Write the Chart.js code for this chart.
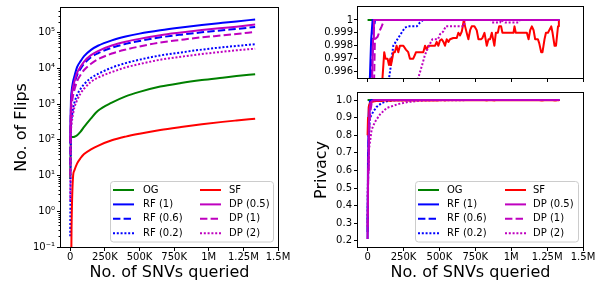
<!DOCTYPE html>
<html><head><meta charset="utf-8">
<script src="https://cdn.jsdelivr.net/npm/chart.js@4"></script>
<style>
html,body{margin:0;padding:0;background:#fff;}
#wrap{position:relative;width:596px;height:286px;overflow:hidden;background:#fff;}
canvas{position:absolute;}
</style></head><body>
<div id="wrap">
<canvas id="c1" width="300" height="286" style="left:0;top:0"></canvas>
<canvas id="c2" width="296" height="85" style="left:300px;top:0"></canvas>
<canvas id="c3" width="296" height="201" style="left:300px;top:85px"></canvas>
</div>
<script>
// ---------- data ----------
const seriesNames = ['OG','RF (1)','RF (0.6)','RF (0.2)','SF','DP (0.5)','DP (1)','DP (2)'];

const xTickValues = [0, 250000, 500000, 750000, 1000000, 1250000, 1500000];
const xTickLabels = ['0','250K','500K','750K','1M','1.25M','1.5M'];
const flipTickValues = [0.1, 1, 10, 100, 1000, 10000, 100000];
const flipTickLabels = ['10\u207B\u00B9','10\u2070','10\u00B9','10\u00B2','10\u00B3','10\u2074','10\u2075'];
const privTopTickValues = [0.996, 0.997, 0.998, 0.999, 1];
const privTopTickLabels = ['0.996','0.997','0.998','0.999','1'];
const privTickValues = [0.2, 0.3, 0.4, 0.5, 0.6, 0.7, 0.8, 0.9, 1.0];
const privTickLabels = ['0.2','0.3','0.4','0.5','0.6','0.7','0.8','0.9','1.0'];

// No. of flips vs SNVs queried
const flipX    = [0, 5000, 10000, 20000, 30000, 50000, 75000, 100000, 150000, 200000, 300000, 400000, 500000, 650000, 800000, 950000, 1100000, 1200000, 1335000];
const flipOG   = [8, 110, 118, 120, 122, 135, 170, 230, 400, 650, 1100, 1650, 2200, 3100, 3900, 4700, 5500, 6100, 6900];
const flipRF1  = [80, 1200, 2300, 4200, 6000, 11000, 16000, 22000, 33000, 43000, 61000, 78000, 94000, 117000, 140000, 164000, 188000, 205000, 235000];
const flipRF06 = [20, 700, 1400, 2600, 3700, 6600, 9800, 13500, 20500, 26500, 38000, 48500, 58500, 74000, 88000, 102000, 117000, 127000, 144000];
const flipRF02 = [0.2, 200, 400, 750, 1100, 1800, 2700, 3600, 5400, 7000, 10500, 14000, 17500, 23000, 28000, 33500, 39000, 42500, 47600];
const flipSF   = [0.01, 0.01, 0.5, 9, 14, 22, 31, 40, 54, 68, 97, 123, 148, 188, 228, 272, 318, 348, 390];
const flipDP05 = [90, 800, 1600, 3000, 4300, 7600, 11200, 15500, 23500, 30500, 43500, 55500, 67000, 85000, 101000, 118000, 135000, 147000, 168000];
const flipDP1  = [10, 450, 900, 1700, 2500, 4400, 6600, 9000, 13500, 18000, 26000, 33500, 41000, 53000, 63000, 74000, 84000, 92000, 104000];
const flipDP2  = [2, 140, 280, 520, 800, 1300, 2000, 2700, 4200, 5500, 7900, 10600, 13200, 17500, 21300, 25200, 29200, 32000, 35600];

// Privacy vs SNVs queried: [x, privacy]
const privOG = [[0,1],[1335000,1]];
const privRF1 = [[0,0.21],[3000,0.7],[6000,0.9],[10000,0.97],[16000,0.9955],[25000,0.9985],[35000,1],[1335000,1]];
const privRF06 = [[0,0.25],[4000,0.6],[8000,0.85],[14000,0.95],[20000,0.985],[28000,0.9956],[40000,0.999],[52000,1],[1335000,1]];
const privRF02 = [[0,0.3],[4000,0.6],[10000,0.82],[17000,0.9],[39000,0.933],[63000,0.961],[98000,0.983],[130000,0.992],[151000,0.9956],[160000,0.9963],[167000,0.997],[179000,0.998],[202000,0.9984],[225000,0.9988],[260000,0.9994],[283000,0.9995],[342000,0.9995],[365000,0.9998],[388000,1],[1335000,1]];
const privSF = [[0,0.8],[3000,0.9],[8000,0.96],[15000,0.98],[25000,0.988],[40000,0.992],[60000,0.994],[80000,0.995],[102000,0.9952],[116000,0.9975],[125000,0.997],[139000,0.997],[149000,0.9965],[158000,0.997],[163000,0.9965],[172000,0.997],[180000,0.9975],[190000,0.9975],[202000,0.998],[214000,0.9975],[225000,0.998],[249000,0.998],[267000,0.9977],[283000,0.9975],[295000,0.997],[318000,0.997],[330000,0.9973],[337000,0.9975],[388000,0.9975],[400000,0.998],[411000,0.9977],[423000,0.998],[470000,0.998],[481000,0.9983],[493000,0.998],[504000,0.9984],[516000,0.9985],[528000,0.9983],[539000,0.998],[551000,0.9985],[563000,0.9983],[574000,0.9985],[597000,0.9986],[621000,0.9986],[632000,0.999],[644000,0.9988],[656000,0.9991],[663000,0.9995],[670000,1],[679000,0.9995],[690000,0.999],[702000,0.9985],[714000,0.9992],[725000,0.9995],[744000,0.9995],[760000,0.9992],[772000,0.9985],[790000,0.9985],[800000,0.9986],[814000,0.999],[830000,0.998],[842000,0.9985],[853000,0.9985],[865000,0.999],[883000,0.998],[893000,0.999],[907000,0.999],[916000,0.9995],[930000,0.9995],[939000,0.999],[1016000,0.999],[1023000,0.9995],[1032000,0.999],[1109000,0.999],[1121000,0.9985],[1132000,0.9992],[1144000,0.9995],[1156000,0.9992],[1167000,0.9985],[1186000,0.9985],[1195000,0.9982],[1209000,0.9975],[1218000,0.9975],[1232000,0.9985],[1242000,0.999],[1256000,0.999],[1279000,0.9995],[1288000,0.999],[1302000,0.998],[1312000,0.998],[1326000,0.9995],[1332000,1]];
const privDP05 = [[0,0.21],[4000,0.6],[8000,0.85],[14000,0.95],[22000,0.985],[32000,0.9956],[38000,0.9985],[44000,1],[1335000,1]];
const privDP1 = [[0,0.28],[5000,0.6],[10000,0.8],[18000,0.93],[28000,0.98],[38000,0.993],[46000,0.9956],[51000,0.9985],[70000,0.9987],[86000,0.9992],[98000,0.9995],[109000,0.9998],[116000,1],[1335000,1]];
const privDP2 = [[0,0.45],[4000,0.6],[10000,0.72],[28000,0.83],[51000,0.875],[86000,0.918],[133000,0.955],[213000,0.977],[283000,0.989],[342000,0.994],[353000,0.9955],[377000,0.9964],[400000,0.9973],[428000,0.998],[451000,0.9985],[470000,0.9985],[490000,0.9985],[505000,0.9989],[527000,0.9991],[544000,0.9995],[600000,0.9995],[670000,0.9995],[679000,1],[860000,1],[865000,0.9998],[923000,0.9998],[930000,1],[958000,0.9998],[1051000,0.9998],[1060000,1],[1335000,1]];

// ---------- styles ----------
const seriesColors = ['#008000','#0000ff','#0000ff','#0000ff','#ff0000','#bf00bf','#bf00bf','#bf00bf'];
const seriesDash = [[],[],[7.4,3.2],[2,1.8],[],[],[7.4,3.2],[2,1.8]];
const FONT = "'DejaVu Sans', sans-serif";
Chart.defaults.font.family = FONT;
Chart.defaults.font.size = 10;
Chart.defaults.color = '#000';
Chart.defaults.animation = false;

function flipSeries(ys){ return flipX.map((x,i)=>({x:x, y:ys[i]})); }
function pairSeries(p){ return p.map(d=>({x:d[0], y:d[1]})); }

function makeDatasets(list, smooth){
  return seriesNames.map((name,i)=>({
    label:name, data:list[i], borderColor:seriesColors[i], backgroundColor:seriesColors[i],
    borderDash:seriesDash[i], borderWidth:2, pointRadius:0, pointHoverRadius:0,
    fill:false, tension: smooth ? 0.4 : 0, cubicInterpolationMode: smooth ? 'monotone' : 'default',
    order:8-i, borderCapStyle:'butt', borderJoinStyle:'round'
  }));
}

const boxPlugin = { id:'axbox', afterDatasetsDraw(chart){
  const {ctx, chartArea:a} = chart; ctx.save();
  ctx.strokeStyle='#000'; ctx.lineWidth=1;
  ctx.strokeRect(Math.round(a.left)-0.5, Math.round(a.top)-0.5, Math.round(a.right-a.left)+1, Math.round(a.bottom-a.top)+1);
  ctx.restore();
}};

const legendPlugin = { id:'mylegend', afterDraw(chart, args, o){
  if(!o || o.x===undefined) return;
  const ctx = chart.ctx; ctx.save();
  ctx.beginPath(); ctx.roundRect(o.x+0.5, o.y+0.5, o.w, o.h, 3);
  ctx.fillStyle='rgba(255,255,255,0.8)'; ctx.fill();
  ctx.strokeStyle='#cccccc'; ctx.lineWidth=1; ctx.stroke();
  chart.data.datasets.forEach((ds,i)=>{
    const col=Math.floor(i/4), row=i%4;
    const y = o.y + o.row0 + row*o.rowH;
    const hx = o.x + o.hx[col];
    ctx.beginPath(); ctx.setLineDash(ds.borderDash||[]);
    ctx.strokeStyle=ds.borderColor; ctx.lineWidth=ds.borderWidth; ctx.lineCap='butt';
    ctx.moveTo(hx, y); ctx.lineTo(hx+o.hl, y); ctx.stroke();
    ctx.setLineDash([]);
    ctx.fillStyle='#000'; ctx.font="10px "+FONT; ctx.textBaseline='middle'; ctx.textAlign='left';
    ctx.fillText(ds.label, o.x+o.tx[col], y);
  });
  ctx.restore();
}};

const minorPlugin = { id:'minorticks', afterDatasetsDraw(chart){
  const s = chart.scales.y; const a = chart.chartArea; const ctx = chart.ctx;
  ctx.save(); ctx.strokeStyle='#000'; ctx.lineWidth=1;
  for(let k=-1;k<=5;k++){ for(let m=2;m<=9;m++){
    const v=m*Math.pow(10,k); if(v<s.min||v>s.max) continue;
    const y=Math.round(s.getPixelForValue(v))+0.5;
    ctx.beginPath(); ctx.moveTo(a.left-2.5,y); ctx.lineTo(a.left,y); ctx.stroke();
  }}
  ctx.restore();
}};

function xScale(showLabels, height, title){
  return {
    type:'linear', min:-66700, max:1500000,
    afterBuildTicks:(s)=>{ s.ticks = xTickValues.map(v=>({value:v})); },
    afterFit:(s)=>{ s.height = height; },
    ticks:{ autoSkip:false, maxRotation:0, padding:0, font:{size:10, family:FONT}, color:'#000',
      callback:(v,i)=> showLabels ? xTickLabels[i] : '' },
    grid:{ display:true, drawOnChartArea:false, drawTicks:true, tickLength:4, color:'#000', lineWidth:1 },
    border:{ display:false },
    title:{ display:!!title, text:title||'', font:{size:16, family:FONT}, color:'#000', padding:{top:0, bottom:3.5} }
  };
}
function yScale(type, min, max, vals, labels, width, title, pad){
  return {
    type:type, min:min, max:max,
    afterBuildTicks:(s)=>{ s.ticks = vals.map(v=>({value:v})); },
    afterFit:(s)=>{ s.width = width; },
    ticks:{ autoSkip:false, padding:pad, font:{size:10, family:FONT}, color:'#000',
      callback:(v,i)=>labels[i] },
    grid:{ display:true, drawOnChartArea:false, drawTicks:true, tickLength:4, color:'#000', lineWidth:1 },
    border:{ display:false },
    title:{ display:!!title, text:title||'', font:{size:16, family:FONT}, color:'#000', padding:{top:12, bottom:0} }
  };
}
const basePlugins = { legend:{display:false}, tooltip:{enabled:false} };

// Left: flips
new Chart(document.getElementById('c1'), {
  type:'line',
  data:{ datasets: makeDatasets([flipOG,flipRF1,flipRF06,flipRF02,flipSF,flipDP05,flipDP1,flipDP2].map(flipSeries), true) },
  options:{ responsive:false, devicePixelRatio:1, animation:false,
    layout:{ padding:{ left:0, top:5, right:22, bottom:0 } },
    scales:{ x:xScale(true, 39, 'No. of SNVs queried'),
             y:yScale('logarithmic', 0.1, 490000, flipTickValues, flipTickLabels, 61, 'No. of Flips', 2) },
    plugins:{ ...basePlugins, mylegend:{ x:110, y:181, w:163, h:60.5, row0:9, rowH:14.4, hx:[3,90], hl:21, tx:[33,119] } }
  },
  plugins:[boxPlugin, minorPlugin, legendPlugin]
});

const privSets = [privOG,privRF1,privRF06,privRF02,privSF,privDP05,privDP1,privDP2].map(pairSeries);

// Right top: zoomed privacy
new Chart(document.getElementById('c2'), {
  type:'line',
  data:{ datasets: makeDatasets(privSets, false) },
  options:{ responsive:false, devicePixelRatio:1, animation:false,
    layout:{ padding:{ left:0, top:5, right:13, bottom:0 } },
    scales:{ x:xScale(false, 6, null),
             y:yScale('linear', 0.9955, 1.001, privTopTickValues, privTopTickLabels, 58, null, 1) },
    plugins:{ ...basePlugins }
  },
  plugins:[boxPlugin]
});

// Right bottom: privacy
new Chart(document.getElementById('c3'), {
  type:'line',
  data:{ datasets: makeDatasets(privSets, false) },
  options:{ responsive:false, devicePixelRatio:1, animation:false,
    layout:{ padding:{ left:0, top:5, right:13, bottom:0 } },
    scales:{ x:xScale(true, 39, 'No. of SNVs queried'),
             y:yScale('linear', 0.165, 1.04, privTickValues, privTickLabels, 58, 'Privacy', 2) },
    plugins:{ ...basePlugins, mylegend:{ x:115, y:96, w:163, h:60.5, row0:9, rowH:14.4, hx:[3,90], hl:21, tx:[32,118] } }
  },
  plugins:[boxPlugin, legendPlugin]
});
</script>
</body></html>
